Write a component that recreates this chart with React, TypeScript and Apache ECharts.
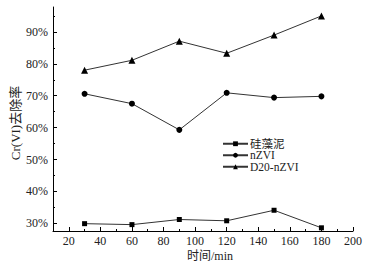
import React, { useEffect, useRef } from "react";
import * as echarts from "echarts";

const times = [30, 60, 90, 120, 150, 180];
const diatomite = [29.9, 29.6, 31.2, 30.8, 34.1, 28.6];
const nzvi = [70.6, 67.5, 59.3, 70.9, 69.4, 69.8];
const d20nzvi = [78.0, 81.1, 87.1, 83.3, 89.0, 95.0];
const seriesNames = ["硅藻泥", "nZVI", "D20-nZVI"];
const xMajor = [20, 40, 60, 80, 100, 120, 140, 160, 180, 200];
const xMinor = [30, 50, 70, 90, 110, 130, 150, 170, 190];
const yMajor = [30, 40, 50, 60, 70, 80, 90];
const yMinor = [35, 45, 55, 65, 75, 85, 95];

const FONT = "'Liberation Serif', 'Times New Roman', 'Noto Sans CJK SC', serif";
const TXT = "#222";

export default function App() {
  const ref = useRef<HTMLDivElement>(null);
  useEffect(() => {
    const chart = echarts.init(ref.current!, null, { renderer: "svg" });
    const pair = (arr: number[]) => times.map((t, i) => [t, arr[i]]);
    const lineStyle = { color: "#333", width: 1 };
    const itemStyle = { color: "#000" };
    const xBase = { type: "value", min: 10, max: 200, gridIndex: 0, splitLine: { show: false } };
    const yBase = { type: "value", min: 27.6, max: 97.8, gridIndex: 0, splitLine: { show: false } };
    chart.setOption({
      animation: false,
      textStyle: { fontFamily: FONT },
      grid: { left: 53, right: 19, top: 7, bottom: 37 },
      xAxis: [
        {
          ...xBase,
          axisLine: { lineStyle: { color: "#000", width: 1 } },
          axisTick: { inside: true, length: 4, customValues: xMajor, lineStyle: { color: "#000" } },
          axisLabel: { customValues: xMajor, margin: 4, fontSize: 12, color: TXT, fontFamily: FONT },
        },
        {
          ...xBase,
          position: "bottom",
          axisLine: { show: false },
          axisTick: { inside: true, length: 2, customValues: xMinor, lineStyle: { color: "#000" } },
          axisLabel: { show: false },
        },
      ],
      yAxis: [
        {
          ...yBase,
          axisLine: { show: true, lineStyle: { color: "#000", width: 1 } },
          axisTick: { show: true, inside: true, length: 4, customValues: yMajor, lineStyle: { color: "#000" } },
          axisLabel: { customValues: yMajor, margin: 5, fontSize: 12, color: TXT, fontFamily: FONT, formatter: "{value}%" },
        },
        {
          ...yBase,
          position: "left",
          axisLine: { show: false },
          axisTick: { show: true, inside: true, length: 2, customValues: yMinor, lineStyle: { color: "#000" } },
          axisLabel: { show: false },
        },
      ],
      legend: {
        orient: "vertical",
        left: 222,
        top: 138,
        padding: 0,
        itemWidth: 25,
        itemHeight: 6,
        itemGap: 0,
        data: seriesNames,
        textStyle: { fontSize: 11.5, lineHeight: 11, color: TXT, fontFamily: FONT, padding: [0, 0, 0, -3] },
      },
      graphic: [
        {
          type: "text",
          x: 187,
          y: 250,
          style: { text: "时间/min", fontSize: 12, fill: TXT, fontFamily: FONT },
        },
        {
          type: "text",
          x: 15,
          y: 123,
          rotation: Math.PI / 2,
          style: { text: "Cr(VI)去除率", fontSize: 13, fill: TXT, fontFamily: FONT, align: "center", verticalAlign: "middle" },
        },
      ],
      series: [
        { name: seriesNames[0], type: "line", data: pair(diatomite), symbol: "rect", symbolSize: 5, lineStyle, itemStyle },
        { name: seriesNames[1], type: "line", data: pair(nzvi), symbol: "circle", symbolSize: 6, lineStyle, itemStyle },
        { name: seriesNames[2], type: "line", data: pair(d20nzvi), symbol: "triangle", symbolSize: 7, lineStyle, itemStyle },
      ],
    });
    return () => chart.dispose();
  }, []);
  return <div ref={ref} style={{ width: 372, height: 268, position: "absolute", left: 0, top: 0 }} />;
}
